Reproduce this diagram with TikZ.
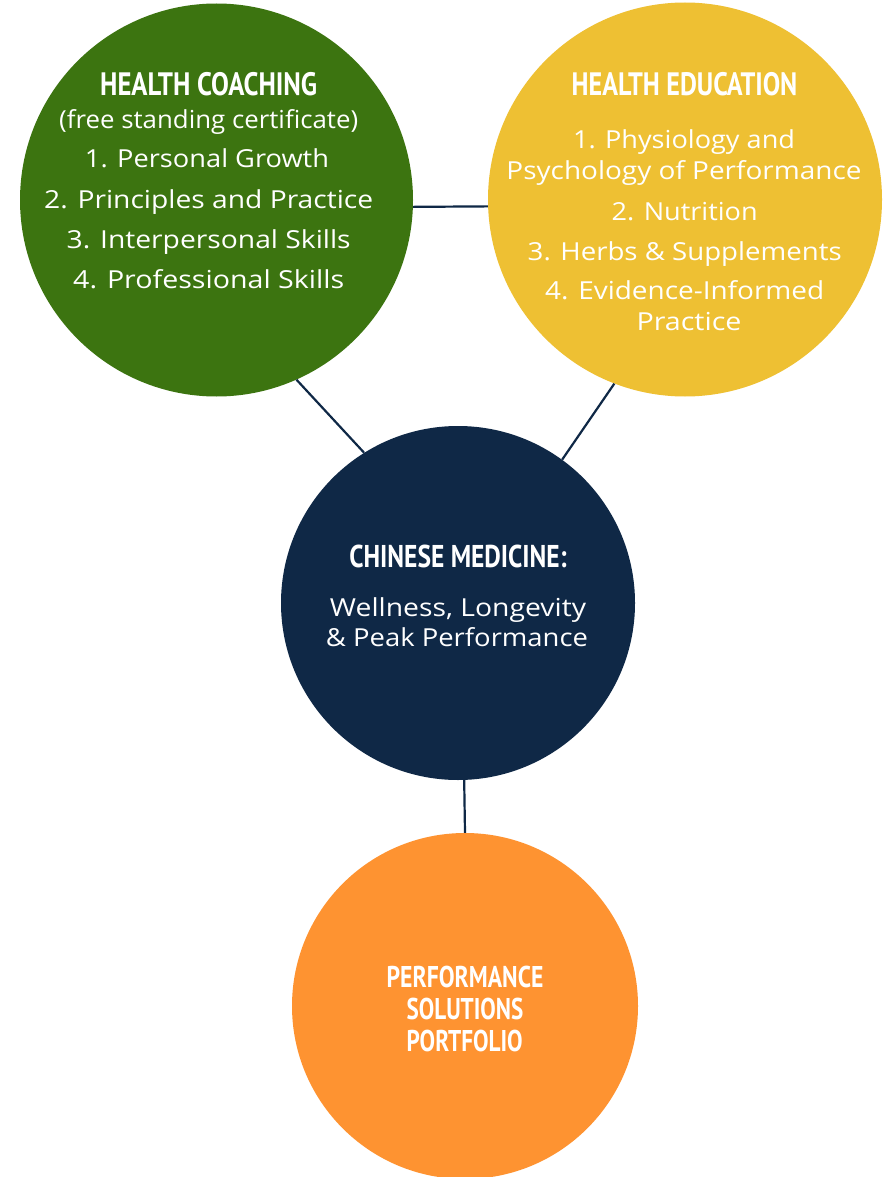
\documentclass[tikz,border=0pt]{standalone}
\usepackage{fontspec}
\usepackage{graphicx}
\setmainfont{Open Sans}
\newfontfamily\headfont{PT Sans}
\definecolor{cgreen}{HTML}{3C7410}
\definecolor{cyellow}{HTML}{EEC033}
\definecolor{cnavy}{HTML}{0F2846}
\definecolor{corange}{HTML}{FE9331}
\newcommand{\bdtxt}[2]{\resizebox{#1pt}{\height}{\fontsize{24.8}{28}\selectfont #2}}
\newcommand{\hdtxt}[3]{\resizebox{#1pt}{\height}{\headfont\bfseries\fontsize{#2}{#2}\selectfont #3}}
\begin{document}
\begin{tikzpicture}[x=1pt,y=-1pt,
  bubble/.style={circle,inner sep=0pt,draw=none},
  txt/.style={anchor=base,inner sep=0pt,text=white},
  link/.style={draw=cnavy,line width=2.2pt}]
\fill[white] (0,0) rectangle (886,1177);
\useasboundingbox (0,0) rectangle (886,1177);
% circles
\node[bubble,fill=cgreen,minimum size=393pt] (green) at (216.5,200) {};
\node[bubble,fill=cyellow,minimum size=394pt] (yellow) at (685,199.5) {};
\node[bubble,fill=cnavy,minimum size=354pt] (navy) at (458,603) {};
\node[bubble,fill=corange,minimum size=346pt] (orange) at (465,1006) {};
% connectors
\draw[link] (green.-2.3) -- (yellow.-178);
\draw[link] (green.-66) -- (navy.122.5);
\draw[link] (yellow.-111) -- (navy.54.7);
\draw[link] (navy.-88) -- (orange.90);
% green text
\node[txt] (gh) at (208.7,96) {\hdtxt{217}{32.4}{HEALTH COACHING}};
\node[txt] (g0) at (208.7,129) {\bdtxt{299}{(free standing certificate)}};
\node[txt] (g1) at (207,168) {\bdtxt{244}{1. Personal Growth}};
\node[txt] (g2) at (208.7,208) {\bdtxt{329}{2. Principles and Practice}};
\node[txt] (g3) at (208.7,248) {\bdtxt{284}{3. Interpersonal Skills}};
\node[txt] (g4) at (208.7,288) {\bdtxt{271}{4. Professional Skills}};
% yellow text
\node[txt] (yh) at (684.5,96) {\hdtxt{225.7}{32.4}{HEALTH EDUCATION}};
\node[txt] (y1) at (684,148.3) {\bdtxt{222}{1. Physiology and}};
\node[txt] (y2) at (684,179.3) {\bdtxt{355}{Psychology of Performance}};
\node[txt] (y3) at (684.7,220) {\bdtxt{146}{2. Nutrition}};
\node[txt] (y4) at (684.7,260) {\bdtxt{314}{3. Herbs \& Supplements}};
\node[txt] (y5) at (684.7,299.3) {\bdtxt{279}{4. Evidence-Informed}};
\node[txt] (y6) at (689,330.7) {\bdtxt{105}{Practice}};
% navy text
\node[txt] (nh) at (458,567.3) {\hdtxt{217.3}{31.5}{CHINESE MEDICINE:}};
\node[txt] (n1) at (458,616) {\bdtxt{256}{Wellness, Longevity}};
\node[txt] (n2) at (457,646.7) {\bdtxt{262}{\& Peak Performance}};
% orange text
\node[txt] (o1) at (465,987.7) {\hdtxt{156.7}{30}{PERFORMANCE}};
\node[txt] (o2) at (465,1019.3) {\hdtxt{116.7}{30}{SOLUTIONS}};
\node[txt] (o3) at (464.7,1051.7) {\hdtxt{116}{30}{PORTFOLIO}};
\end{tikzpicture}
\end{document}
